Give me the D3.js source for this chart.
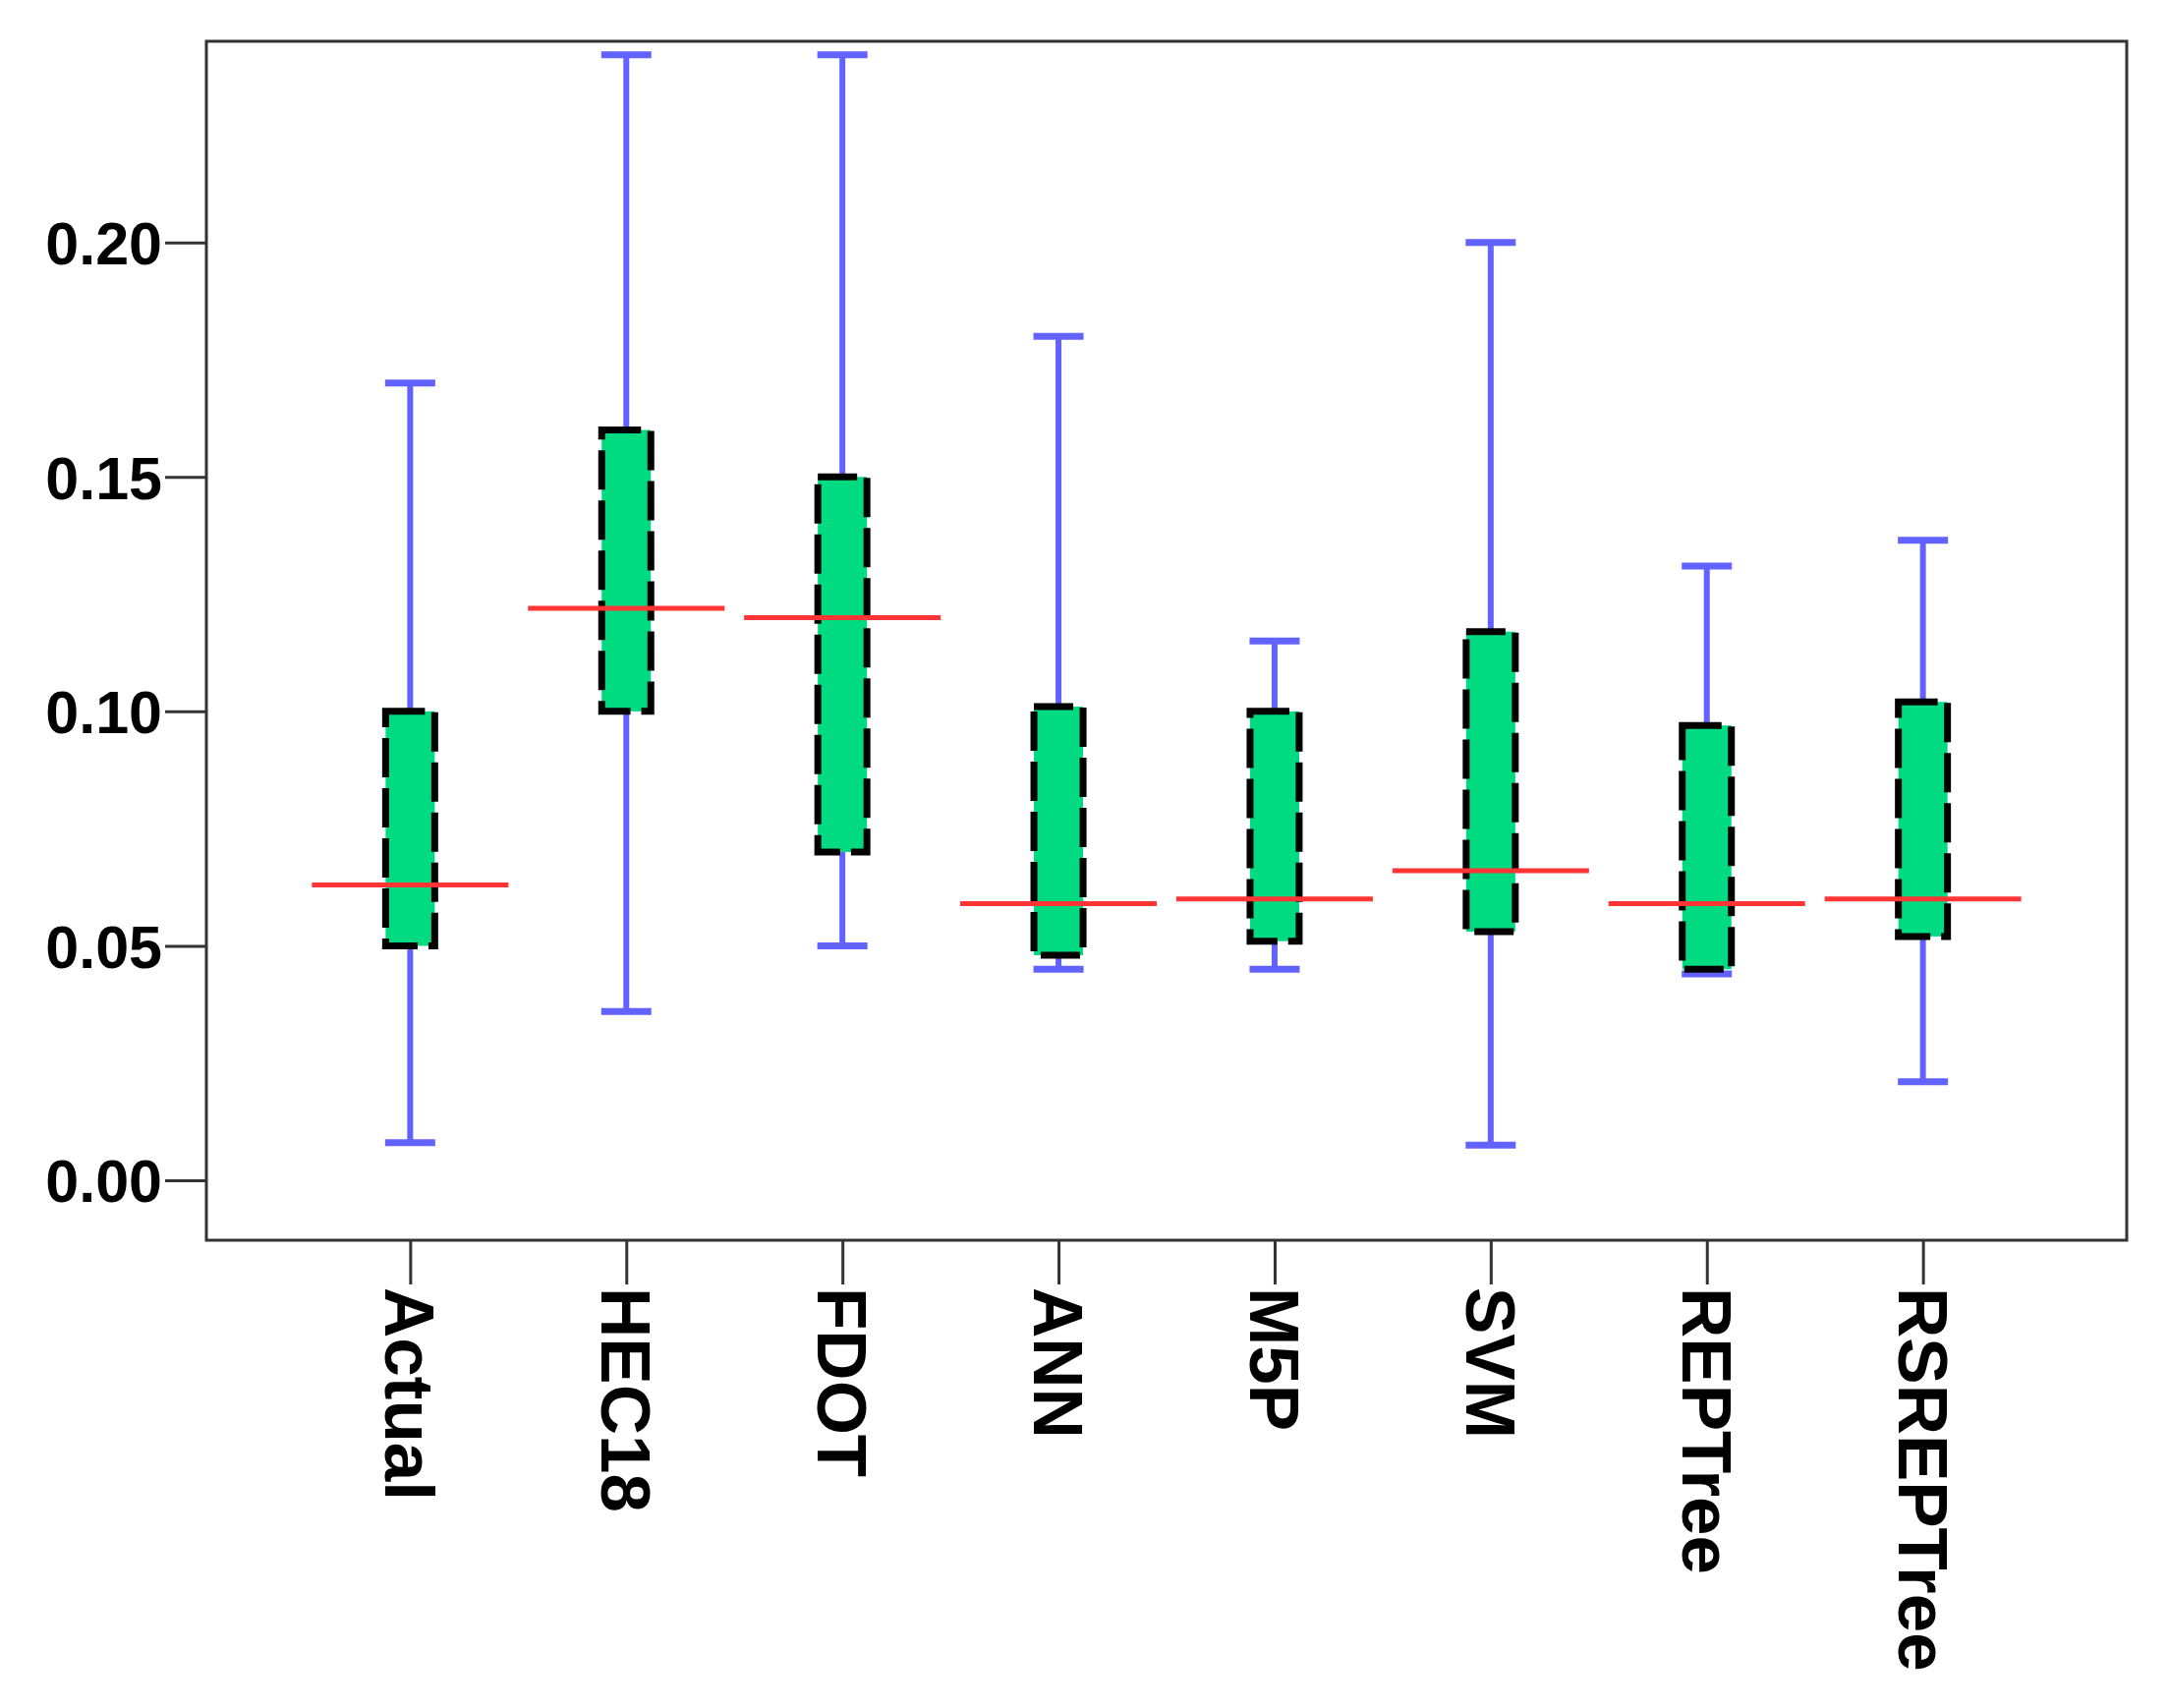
<!DOCTYPE html>
<html>
<head>
<meta charset="utf-8">
<script src="https://cdn.jsdelivr.net/npm/d3@7"></script>
<style>
  html, body { margin: 0; padding: 0; background: #ffffff; }
  svg { display: block; }
  .axis text { font-family: "Liberation Sans", Arial, sans-serif; font-weight: bold; fill: #000; }
</style>
</head>
<body>
<svg id="chart" width="2206" height="1738"></svg>
<script>
// ---- data ----
const categories = ["Actual", "HEC18", "FDOT", "ANN", "M5P", "SVM", "REPTree", "RSREPTree"];
const whiskerHigh = [0.170, 0.240, 0.240, 0.180, 0.115, 0.200, 0.131, 0.1365];
const boxHigh     = [0.100, 0.160, 0.150, 0.101, 0.100, 0.117, 0.097, 0.102];
const medians     = [0.063, 0.122, 0.120, 0.059, 0.060, 0.066, 0.059, 0.060];
const boxLow      = [0.050, 0.100, 0.070, 0.048, 0.051, 0.053, 0.045, 0.052];
const whiskerLow  = [0.008, 0.036, 0.050, 0.045, 0.045, 0.0075, 0.044, 0.021];
const yTicks      = [0.00, 0.05, 0.10, 0.15, 0.20];

(function () {
const rows = categories.map((c, i) => ({
  cat: c, wHi: whiskerHigh[i], bHi: boxHigh[i], med: medians[i], bLo: boxLow[i], wLo: whiskerLow[i]
}));

// ---- layout ----
const svg = d3.select("#chart");
const pL = 210, pR = 2164, pT = 42, pB = 1262;

const x = d3.scalePoint().domain(categories).range([pL, pR]).padding(0.943);
const y = d3.scaleLinear().domain([-0.01278, 0.2429]).range([pB, pT]);

const boxW = 50, capW = 51, medW = 200;
const blue = "#6262ff", green = "#00da80", red = "#ff3535";

const g = svg.append("g");
// whiskers
g.selectAll("line.whisker").data(rows).join("line")
  .attr("class", "whisker")
  .attr("x1", d => x(d.cat)).attr("x2", d => x(d.cat))
  .attr("y1", d => y(d.wHi)).attr("y2", d => y(d.wLo))
  .attr("stroke", blue).attr("stroke-width", 6);

g.selectAll("line.capHi").data(rows).join("line")
  .attr("class", "capHi")
  .attr("x1", d => x(d.cat) - capW / 2).attr("x2", d => x(d.cat) + capW / 2)
  .attr("y1", d => y(d.wHi)).attr("y2", d => y(d.wHi))
  .attr("stroke", blue).attr("stroke-width", 7);

g.selectAll("line.capLo").data(rows).join("line")
  .attr("class", "capLo")
  .attr("x1", d => x(d.cat) - capW / 2).attr("x2", d => x(d.cat) + capW / 2)
  .attr("y1", d => y(d.wLo)).attr("y2", d => y(d.wLo))
  .attr("stroke", blue).attr("stroke-width", 7);

// boxes
g.selectAll("rect.box").data(rows).join("rect")
  .attr("class", "box")
  .attr("x", d => x(d.cat) - boxW / 2)
  .attr("width", boxW)
  .attr("y", d => y(d.bHi))
  .attr("height", d => y(d.bLo) - y(d.bHi))
  .attr("fill", green)
  .attr("stroke", "#000")
  .attr("stroke-width", 7)
  .attr("stroke-dasharray", "40,11");

// medians
g.selectAll("line.median").data(rows).join("line")
  .attr("class", "median")
  .attr("x1", d => x(d.cat) - medW / 2).attr("x2", d => x(d.cat) + medW / 2)
  .attr("y1", d => y(d.med)).attr("y2", d => y(d.med))
  .attr("stroke", red).attr("stroke-width", 5);

// frame
svg.append("rect")
  .attr("x", pL).attr("y", pT)
  .attr("width", pR - pL).attr("height", pB - pT)
  .attr("fill", "none").attr("stroke", "#333").attr("stroke-width", 3);

// y axis
const yAxis = svg.append("g").attr("class", "axis")
  .attr("transform", `translate(${pL},0)`)
  .call(d3.axisLeft(y).tickValues(yTicks).tickFormat(d3.format(".2f")).tickSize(42).tickPadding(3));
yAxis.select(".domain").remove();
yAxis.selectAll(".tick line").attr("stroke", "#333").attr("stroke-width", 3);
yAxis.selectAll("text").style("font-size", "61px").attr("dy", "0.36em");

// x axis
const xAxis = svg.append("g").attr("class", "axis")
  .attr("transform", `translate(0,${pB})`)
  .call(d3.axisBottom(x).tickSize(45));
xAxis.select(".domain").remove();
xAxis.selectAll(".tick line").attr("stroke", "#333").attr("stroke-width", 3);
xAxis.selectAll("text")
  .style("font-size", "71px")
  .attr("transform", "rotate(90)")
  .attr("text-anchor", "start")
  .attr("x", 48).attr("y", 0).attr("dy", "0.36em");
})();
</script>
</body>
</html>
